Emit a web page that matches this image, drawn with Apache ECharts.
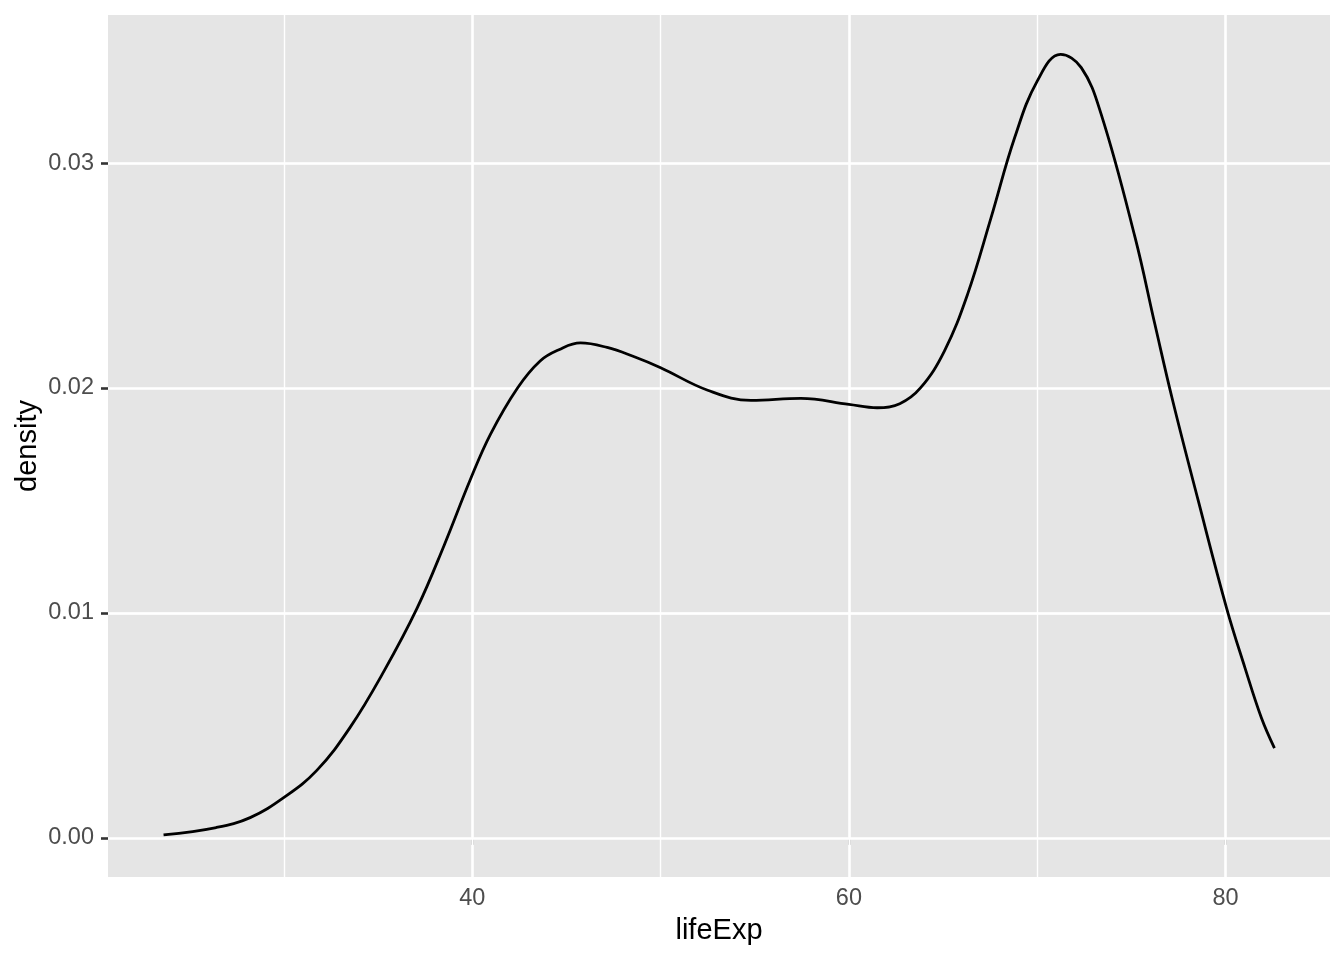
<!DOCTYPE html>
<html>
<head>
<meta charset="utf-8">
<script src="https://cdn.jsdelivr.net/npm/echarts@6/dist/echarts.min.js"></script>
<style>html,body{margin:0;padding:0;background:#fff}#c{width:1344px;height:960px}</style>
</head>
<body>
<div id="c"></div>
<script>
// lifeExp values (x) and estimated density values (y)
const lifeExp = [23.6, 26.4, 28.2, 30.0, 31.74, 33.5, 35.3, 37.06, 38.5, 39.9, 40.96, 42.4, 43.6, 44.6, 45.74, 47.16, 48.5, 50.0, 52.5, 54.8, 57.45, 60.0, 61.5, 62.7, 63.8, 65.07, 66.3, 67.55, 68.8, 70.0, 71.24, 72.34, 73.4, 75.2, 76.25, 77.2, 78.55, 80.05, 81.03, 81.9, 82.6];
const density = [0.00013, 0.00046, 0.0009, 0.0018, 0.0030, 0.0049, 0.0074, 0.0102, 0.0130, 0.01594, 0.01794, 0.0200, 0.0212, 0.0217, 0.0220, 0.0218, 0.02142, 0.0209, 0.0199, 0.01945, 0.01954, 0.01927, 0.01912, 0.0193, 0.0200, 0.02164, 0.02416, 0.02757, 0.03112, 0.03364, 0.03483, 0.03424, 0.03216, 0.02668, 0.02283, 0.01942, 0.0150, 0.01024, 0.00757, 0.00535, 0.00399];
const xTicks = [40, 60, 80];
const xMinor = [30, 50, 70];
const yTicks = [0, 0.01, 0.02, 0.03];
const yMinor = [0.005, 0.015, 0.025, 0.035];

const pts = lifeExp.map((x, i) => [x, density[i]]);
const gridLines = [
  ...xMinor.map(v => ({xAxis: v, lineStyle: {width: 1.4}})),
  ...yMinor.map(v => ({yAxis: v, lineStyle: {width: 1.4}})),
  ...xTicks.map(v => ({xAxis: v, lineStyle: {width: 2.6}})),
  ...yTicks.map(v => ({yAxis: v, lineStyle: {width: 2.6}}))
];
const font = '"Liberation Sans", Arial, Helvetica, sans-serif';
const chart = echarts.init(document.getElementById('c'), null, {renderer: 'canvas'});
chart.setOption({
  animation: false,
  grid: {left: 108, right: 14, top: 15, bottom: 83, show: true, backgroundColor: '#E5E5E5', borderWidth: 0},
  xAxis: {
    type: 'value', min: 20.65, max: 85.55,
    name: 'lifeExp', nameLocation: 'middle', nameGap: 39,
    nameTextStyle: {fontFamily: font, fontSize: 29, color: '#000'},
    axisLine: {show: false},
    splitLine: {show: false},
    axisTick: {show: true, customValues: xTicks, length: 7, lineStyle: {color: '#333', width: 2.6}},
    axisLabel: {customValues: xTicks, margin: 10, fontFamily: font, fontSize: 23.5, color: '#4D4D4D'}
  },
  yAxis: {
    type: 'value', min: -0.00174, max: 0.03658,
    name: 'density', nameLocation: 'middle', nameGap: 66, nameMoveOverlap: false,
    nameTextStyle: {fontFamily: font, fontSize: 29, color: '#000'},
    axisLine: {show: false},
    splitLine: {show: false},
    axisTick: {show: true, customValues: yTicks, length: 7, lineStyle: {color: '#333', width: 2.6}},
    axisLabel: {customValues: yTicks, margin: 14, fontFamily: font, fontSize: 23.5, color: '#4D4D4D',
      formatter: v => v.toFixed(2)}
  },
  series: [
    {
      type: 'line', data: [], z: 1, silent: true,
      markLine: {silent: true, symbol: 'none', label: {show: false},
        lineStyle: {color: '#FFFFFF', type: 'solid'}, data: gridLines, animation: false}
    },
    {
      type: 'line', data: pts, z: 5, smooth: 0.4, showSymbol: false, symbol: 'none',
      lineStyle: {color: '#000', width: 2.8}
    }
  ]
});
</script>
</body>
</html>
